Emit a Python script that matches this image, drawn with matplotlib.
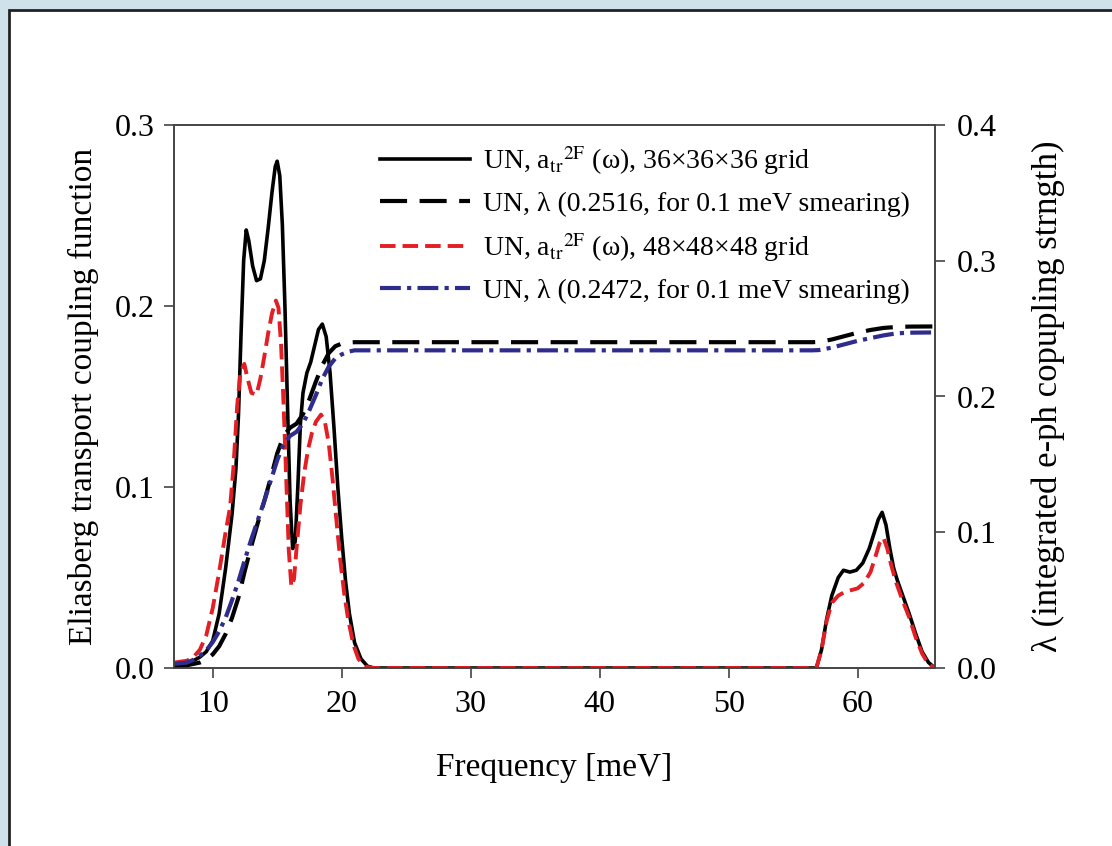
import numpy as np
import matplotlib
matplotlib.use("Agg")
import matplotlib.pyplot as plt
from matplotlib.patches import Rectangle

plt.rcParams['font.family'] = ['Liberation Serif', 'DejaVu Serif']
plt.rcParams['mathtext.fontset'] = 'stix'

# a2F, 36x36x36 grid (black solid)
x_a36 = [7.0, 8.0, 8.5, 9.0, 9.5, 10.0, 10.5, 11.0, 11.5, 11.8, 12.0, 12.2, 12.4, 12.6, 12.8,
         13.1, 13.4, 13.7, 14.0, 14.3, 14.6, 14.85, 15.0, 15.2, 15.4, 15.6, 15.8, 16.0, 16.2,
         16.4, 16.6, 16.8, 17.0, 17.3, 17.6, 17.9, 18.2, 18.5, 18.8, 19.1, 19.4, 19.7, 20.0,
         20.3, 20.6, 21.0, 21.5, 22.0, 22.5, 56.8, 57.2, 57.6, 58.0, 58.5, 58.9, 59.4, 59.9,
         60.4, 60.9, 61.3, 61.6, 61.9, 62.2, 62.5, 62.8, 63.1, 63.5, 64.0, 64.5, 65.0, 65.5,
         66.0]
y_a36 = [0.002, 0.003, 0.004, 0.006, 0.009, 0.015, 0.03, 0.055, 0.085, 0.11, 0.14, 0.185,
         0.225, 0.242, 0.236, 0.222, 0.214, 0.215, 0.225, 0.243, 0.263, 0.277, 0.280, 0.272,
         0.245, 0.2, 0.145, 0.092, 0.066, 0.07, 0.1, 0.135, 0.152, 0.163, 0.169, 0.178, 0.187,
         0.19, 0.183, 0.163, 0.133, 0.1, 0.072, 0.048, 0.03, 0.014, 0.005, 0.001, 0.0, 0.0,
         0.01, 0.027, 0.04, 0.05, 0.054, 0.053, 0.054, 0.058, 0.066, 0.075, 0.082, 0.086,
         0.079, 0.066, 0.055, 0.048, 0.04, 0.03, 0.019, 0.009, 0.003, 0.0]

# a2F, 48x48x48 grid (red dashed)
x_a48 = [7.0, 8.0, 8.5, 9.0, 9.5, 10.0, 10.5, 11.0, 11.35, 11.6, 11.9, 12.15, 12.45, 12.7,
         13.0, 13.4, 13.7, 14.0, 14.3, 14.6, 14.9, 15.1, 15.3, 15.5, 15.7, 15.9, 16.1, 16.3,
         16.5, 16.8, 17.1, 17.4, 17.7, 18.0, 18.4, 18.7, 19.0, 19.3, 19.6, 19.9, 20.2, 20.5,
         20.9, 21.3, 21.8, 22.3, 56.8, 57.2, 57.6, 58.0, 58.5, 59.0, 59.5, 60.0, 60.5, 61.0,
         61.4, 61.7, 62.0, 62.3, 62.6, 63.0, 63.5, 64.0, 64.5, 65.0, 65.5, 66.0]
y_a48 = [0.003, 0.004, 0.006, 0.01, 0.018, 0.033, 0.053, 0.075, 0.089, 0.11, 0.145, 0.163,
         0.168, 0.16, 0.152, 0.151, 0.16, 0.172, 0.185, 0.196, 0.203, 0.199, 0.179, 0.145,
         0.105, 0.065, 0.045, 0.049, 0.066, 0.09, 0.108, 0.121, 0.13, 0.136, 0.14, 0.136,
         0.124, 0.104, 0.081, 0.059, 0.041, 0.027, 0.013, 0.005, 0.001, 0.0, 0.0, 0.01, 0.026,
         0.036, 0.04, 0.042, 0.043, 0.044, 0.047, 0.053, 0.062, 0.069, 0.072, 0.066, 0.057,
         0.047, 0.037, 0.028, 0.017, 0.008, 0.002, 0.0]

# lambda (cumulative), 36 grid (black dashed) and 48 grid (blue dash-dot)
x_lam = [7.0, 8.0, 8.5, 9.0, 9.5, 10.0, 10.5, 11.0, 11.5, 12.0, 12.5, 13.0, 13.5, 14.0, 14.5,
         15.0, 15.5, 16.0, 16.5, 17.0, 17.5, 18.0, 18.5, 19.0, 19.5, 20.0, 20.5, 21.0, 56.5,
         57.0, 58.0, 59.0, 60.0, 61.0, 62.0, 63.0, 64.0, 66.0]
lam36 = [0.001, 0.002, 0.003, 0.004, 0.006, 0.01, 0.016, 0.025, 0.037, 0.052, 0.072, 0.09,
         0.107, 0.123, 0.14, 0.158, 0.171, 0.177, 0.18, 0.187, 0.198, 0.211, 0.223, 0.232,
         0.237, 0.239, 0.2397, 0.240, 0.240, 0.2402, 0.242, 0.2445, 0.247, 0.249, 0.2505,
         0.2512, 0.2515, 0.2516]
lam48 = [0.003, 0.004, 0.006, 0.009, 0.013, 0.019, 0.027, 0.037, 0.05, 0.064, 0.08, 0.095,
         0.109, 0.123, 0.138, 0.153, 0.165, 0.171, 0.174, 0.18, 0.19, 0.201, 0.213, 0.222,
         0.228, 0.231, 0.233, 0.234, 0.234, 0.2342, 0.236, 0.2385, 0.241, 0.243, 0.245,
         0.2465, 0.247, 0.2472]

labels = [r"UN, a$_{\rm tr}$$^{\rm 2F}$ (ω), 36×36×36 grid",
          "UN, λ (0.2516, for 0.1 meV smearing)",
          r"UN, a$_{\rm tr}$$^{\rm 2F}$ (ω), 48×48×48 grid",
          "UN, λ (0.2472, for 0.1 meV smearing)"]

fig = plt.figure(figsize=(11.12, 8.46), dpi=100, facecolor='#cfe2ec')
# white panel with dark border, behind everything
fig.patches.append(Rectangle((9 / 1112, -0.1), 1.2, 1.1 - 10 / 846, transform=fig.transFigure,
                             facecolor='white', edgecolor='#222222', linewidth=2, zorder=-10))

ax = fig.add_axes([174 / 1112, 1 - 668 / 846, (935 - 174) / 1112, (668 - 125) / 846])
ax.set_facecolor('none')
ax2 = ax.twinx()

red = '#e31e24'
blue = '#2e2c8c'

l1, = ax.plot(x_a36, y_a36, color='black', lw=2.6, zorder=3)
l3, = ax.plot(x_a48, y_a48, color=red, lw=2.8, dashes=(4, 1.8), zorder=4)
l2, = ax2.plot(x_lam, lam36, color='black', lw=3.0, dashes=(6.5, 3))
l4, = ax2.plot(x_lam, lam48, color=blue, lw=3.0, dashes=(5, 1.5, 1, 1.5))

ax.set_xlim(7, 66)
ax.set_ylim(0, 0.3)
ax2.set_ylim(0, 0.4)
ax.set_xticks([10, 20, 30, 40, 50, 60])
ax.set_yticks([0.0, 0.1, 0.2, 0.3])
ax2.set_yticks([0.0, 0.1, 0.2, 0.3, 0.4])
ax.yaxis.set_major_formatter(plt.FormatStrFormatter('%.1f'))
ax2.yaxis.set_major_formatter(plt.FormatStrFormatter('%.1f'))

for a in (ax, ax2):
    for s in a.spines.values():
        s.set_color('#444444')
        s.set_linewidth(1.2)
ax.tick_params(axis='both', direction='out', length=7, width=1.2, color='#444444',
               labelsize=23, pad=7)
ax.tick_params(axis='x', pad=9)
ax2.tick_params(axis='y', direction='out', length=7, width=1.2, color='#444444',
                labelsize=23, pad=9)

ax.set_xlabel("Frequency [meV]", fontsize=24, labelpad=24)
ax.set_ylabel("Eliasberg transport coupling function", fontsize=24, labelpad=11)
ax2.set_ylabel("λ (integrated e-ph copupling strngth)", fontsize=25, labelpad=25)

ax2.legend([l1, l2, l3, l4], labels, loc='upper left', bbox_to_anchor=(0.238, 1.011),
           frameon=False, fontsize=20, handlelength=3.25, handletextpad=0.45,
           labelspacing=0.52)

fig.savefig("out.png", dpi=100, facecolor=fig.get_facecolor())
